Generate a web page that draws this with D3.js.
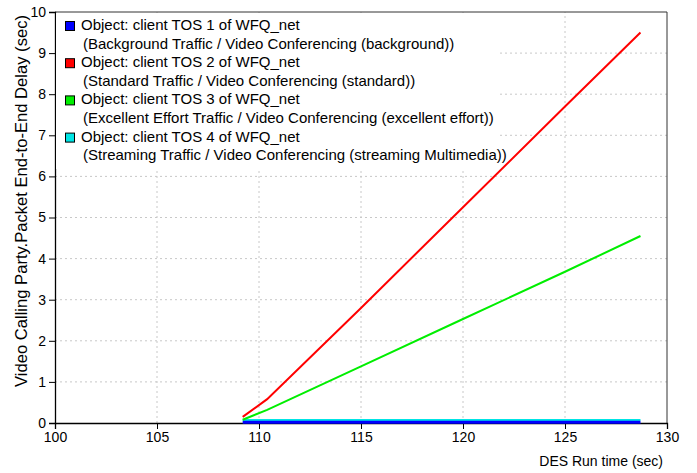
<!DOCTYPE html>
<html>
<head>
<meta charset="utf-8">
<script src="https://cdn.jsdelivr.net/npm/d3@7"></script>
<style>
  body { margin: 0; background: #fff; }
  text { font-family: "Liberation Sans", Arial, sans-serif; }
</style>
</head>
<body>
<svg id="chart"></svg>
<script>
// series data (time in sec, delay in sec)
const seriesNames = [
    ["Object: client TOS 1 of WFQ_net", "(Background Traffic / Video Conferencing (background))"],
    ["Object: client TOS 2 of WFQ_net", "(Standard Traffic / Video Conferencing (standard))"],
    ["Object: client TOS 3 of WFQ_net", "(Excellent Effort Traffic / Video Conferencing (excellent effort))"],
    ["Object: client TOS 4 of WFQ_net", "(Streaming Traffic / Video Conferencing (streaming Multimedia))"]
];
const seriesColors = ["#0000ff", "#ff0000", "#00ee00", "#00e5e5"];

const tos1Time = [109.2, 110.4, 115, 120, 125, 128.7];
const tos1Delay = [0.02, 0.02, 0.02, 0.02, 0.02, 0.02];
const tos2Time = [109.2, 110.4, 115, 120, 125, 128.7];
const tos2Delay = [0.15, 0.58, 2.8, 5.25, 7.7, 9.5];
const tos3Time = [109.2, 110.4, 115, 120, 125, 128.7];
const tos3Delay = [0.08, 0.32, 1.38, 2.53, 3.68, 4.55];
const tos4Time = [109.2, 110.4, 115, 120, 125, 128.7];
const tos4Delay = [0.07, 0.07, 0.07, 0.07, 0.07, 0.07];

const xTicks = [100, 105, 110, 115, 120, 125, 130];
const yTicks = [0, 1, 2, 3, 4, 5, 6, 7, 8, 9, 10];

const width = 697;
const height = 473;
const margin = { top: 12, right: 30, bottom: 50, left: 55 };
const font = '"Liberation Sans", Arial, sans-serif';

const svg = d3.select('#chart')
    .attr('width', width)
    .attr('height', height);

const x = d3.scaleLinear().domain([100, 130]).range([margin.left, width - margin.right]);
const y = d3.scaleLinear().domain([0, 10]).range([height - margin.bottom, margin.top]);

// dotted grid
svg.append('g')
    .selectAll('line')
    .data(xTicks.slice(1, -1))
    .join('line')
    .attr('x1', d => x(d)).attr('x2', d => x(d))
    .attr('y1', y(0)).attr('y2', y(10))
    .attr('stroke', '#c8c8c8')
    .attr('stroke-dasharray', '2,3');

svg.append('g')
    .selectAll('line')
    .data(yTicks.slice(1, -1))
    .join('line')
    .attr('x1', x(100)).attr('x2', x(130))
    .attr('y1', d => y(d)).attr('y2', d => y(d))
    .attr('stroke', '#c8c8c8')
    .attr('stroke-dasharray', '2,3');

// frame top/right
svg.append('path')
    .attr('d', `M${x(100)},${y(10)}H${x(130)}V${y(0)}`)
    .attr('fill', 'none')
    .attr('stroke', '#333');

// axes
const xAxis = svg.append('g')
    .attr('transform', `translate(0,${y(0)})`)
    .call(d3.axisBottom(x).tickValues(xTicks).tickSize(6).tickPadding(3));
const yAxis = svg.append('g')
    .attr('transform', `translate(${x(100)},0)`)
    .call(d3.axisLeft(y).tickValues(yTicks).tickSize(6).tickPadding(3));

[xAxis, yAxis].forEach(ax => {
    ax.select('.domain').attr('stroke', '#000').attr('stroke-width', 1.3);
    ax.selectAll('.tick line').attr('stroke', '#000');
    ax.selectAll('.tick text')
        .attr('fill', '#000')
        .style('font-family', font)
        .style('font-size', '14px');
});

// axis titles
svg.append('text')
    .attr('transform', `translate(27,201) rotate(-90)`)
    .attr('text-anchor', 'middle')
    .attr('font-size', '16.6px')
    .text('Video Calling Party.Packet End-to-End Delay (sec)');

svg.append('text')
    .attr('x', x(130) - 4)
    .attr('y', 466)
    .attr('text-anchor', 'end')
    .attr('font-size', '14px')
    .text('DES Run time (sec)');

// legend box (white, covers grid)
const legend = svg.append('g');
legend.append('rect')
    .attr('x', x(100) + 1).attr('y', y(10) + 1)
    .attr('width', 442).attr('height', 156)
    .attr('fill', '#fff');

seriesNames.forEach((names, i) => {
    const rowY = 21 + i * 37.2;
    legend.append('rect')
        .attr('x', 65.5).attr('y', rowY + 0.5)
        .attr('width', 9).attr('height', 9)
        .attr('fill', seriesColors[i])
        .attr('stroke', '#000');
    legend.append('text')
        .attr('x', 81).attr('y', rowY + 9)
        .attr('font-size', '15px')
        .text(names[0]);
    legend.append('text')
        .attr('x', 83).attr('y', rowY + 27.6)
        .attr('font-size', '15px')
        .text(names[1]);
});

// lines
const line = d3.line().x(d => x(d[0])).y(d => y(d[1]));
const lineData = [
    { t: tos4Time, v: tos4Delay, color: seriesColors[3], w: 2 },
    { t: tos1Time, v: tos1Delay, color: seriesColors[0], w: 3 },
    { t: tos3Time, v: tos3Delay, color: seriesColors[2], w: 2 },
    { t: tos2Time, v: tos2Delay, color: seriesColors[1], w: 2 }
];
svg.append('g')
    .selectAll('path')
    .data(lineData)
    .join('path')
    .attr('fill', 'none')
    .attr('stroke', d => d.color)
    .attr('stroke-width', d => d.w)
    .attr('d', d => line(d.t.map((t, i) => [t, d.v[i]])));
</script>
</body>
</html>
